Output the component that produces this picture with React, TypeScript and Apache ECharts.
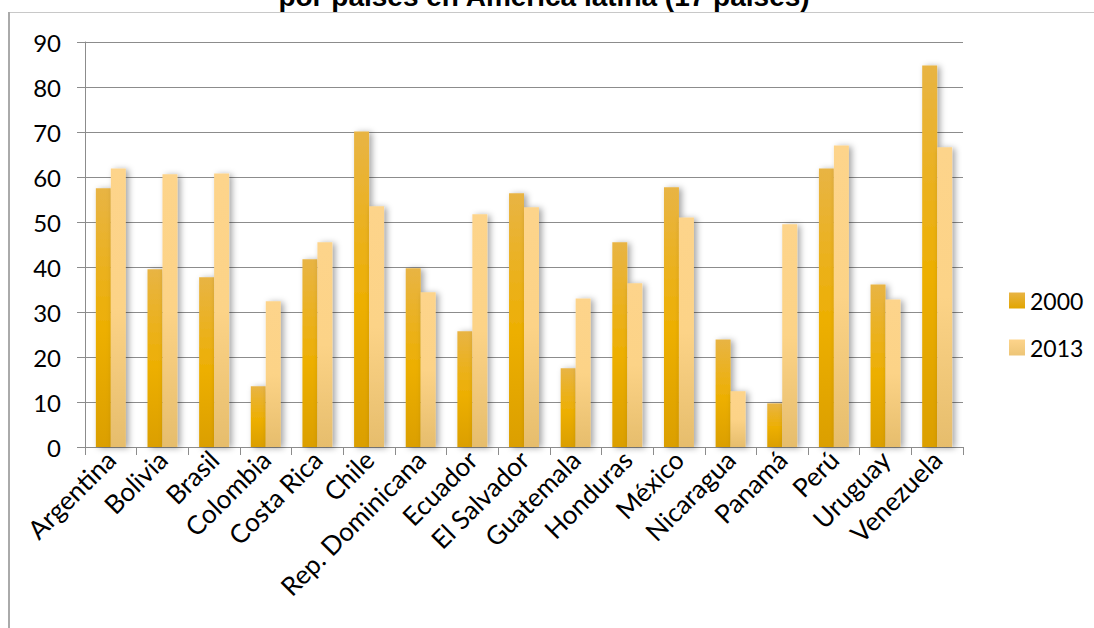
import React, { useEffect, useRef } from "react";
import * as echarts from "echarts";

const categories = [
  "Argentina", "Bolivia", "Brasil", "Colombia", "Costa Rica", "Chile",
  "Rep. Dominicana", "Ecuador", "El Salvador", "Guatemala", "Honduras",
  "México", "Nicaragua", "Panamá", "Perú", "Uruguay", "Venezuela",
];
const values2000 = [57.5, 39.5, 37.7, 13.5, 41.7, 70.1, 39.7, 25.7, 56.4, 17.5, 45.5, 57.7, 23.9, 9.7, 61.9, 36.1, 84.8];
const values2013 = [61.9, 60.6, 60.8, 32.4, 45.5, 53.5, 34.4, 51.7, 53.3, 33.0, 36.4, 51.0, 12.4, 49.5, 67.0, 32.8, 66.6];
const seriesNames = ["2000", "2013"];
const titleText = "por países en América latina (17 países)";

const FONT = "Lato, 'Open Sans', sans-serif";

export default function App() {
  const ref = useRef<HTMLDivElement>(null);
  useEffect(() => {
    if (!ref.current) return;
    const chart = echarts.init(ref.current, undefined, { renderer: "svg" });
    const grad2000 = new echarts.graphic.LinearGradient(0, 0, 0, 1, [
      { offset: 0, color: "#E8B444" },
      { offset: 0.55, color: "#EDAF02" },
      { offset: 1, color: "#DB9F00" },
    ]);
    const grad2013 = new echarts.graphic.LinearGradient(0, 0, 0, 1, [
      { offset: 0, color: "#FDD48B" },
      { offset: 0.5, color: "#FCD387" },
      { offset: 1, color: "#E6BD6C" },
    ]);
    const legendGrad2000 = new echarts.graphic.LinearGradient(0, 0, 0, 1, [
      { offset: 0, color: "#E8B444" },
      { offset: 1, color: "#E2A500" },
    ]);
    const legendGrad2013 = new echarts.graphic.LinearGradient(0, 0, 0, 1, [
      { offset: 0, color: "#FDD48B" },
      { offset: 1, color: "#EDC577" },
    ]);
    const shadow = {
      shadowColor: "rgba(0,0,0,0.35)",
      shadowBlur: 6,
      shadowOffsetX: 3,
      shadowOffsetY: 1,
    };
    chart.setOption({
      animation: false,
      backgroundColor: "#fff",
      textStyle: { fontFamily: FONT },
      grid: { left: 85, right: 131, top: 42, bottom: 181, containLabel: false },
      legend: {
        orient: "vertical",
        left: 1004,
        top: 284,
        itemWidth: 16,
        itemHeight: 16,
        itemGap: 24,
        icon: "rect",
        textStyle: { fontSize: 23, color: "#000", fontFamily: FONT },
        data: [
          { name: seriesNames[0], itemStyle: { color: legendGrad2000 } },
          { name: seriesNames[1], itemStyle: { color: legendGrad2013 } },
        ],
      },
      xAxis: {
        type: "category",
        data: categories,
        axisLine: { lineStyle: { color: "#8C8C8C", width: 1 } },
        axisTick: { show: true, length: 8, lineStyle: { color: "#8C8C8C" } },
        axisLabel: {
          rotate: 45,
          interval: 0,
          margin: 8,
          fontSize: 26,
          color: "#000",
          fontFamily: FONT,
        },
      },
      yAxis: {
        type: "value",
        min: 0,
        max: 90,
        interval: 10,
        axisLine: { show: true, lineStyle: { color: "#8C8C8C", width: 1 } },
        axisTick: { show: true, length: 8, lineStyle: { color: "#8C8C8C" } },
        axisLabel: { fontSize: 24, color: "#000", margin: 24, fontFamily: FONT },
        splitLine: { show: true, lineStyle: { color: "#8C8C8C", width: 1.2 } },
      },
      series: [
        {
          name: seriesNames[0],
          type: "bar",
          data: values2000,
          barGap: "0%",
          barCategoryGap: "42%",
          itemStyle: { color: grad2000, ...shadow },
        },
        {
          name: seriesNames[1],
          type: "bar",
          data: values2013,
          barGap: "0%",
          barCategoryGap: "42%",
          itemStyle: { color: grad2013, ...shadow },
        },
      ],
      graphic: [
        {
          type: "text",
          x: 544,
          y: 10.5,
          style: {
            text: titleText,
            font: "bold 28px 'Liberation Sans', Arial, sans-serif",
            fill: "#000",
            align: "center",
            verticalAlign: "bottom",
          },
        },
        {
          type: "line",
          shape: { x1: 9, y1: 12.5, x2: 1094, y2: 12.5 },
          style: { stroke: "#C8C8C8", lineWidth: 1 },
        },
        {
          type: "line",
          shape: { x1: 9, y1: 12, x2: 9, y2: 628 },
          style: { stroke: "#AAAAAA", lineWidth: 2 },
        },
      ],
    });
    return () => chart.dispose();
  }, []);
  return <div ref={ref} style={{ width: 1094, height: 628, position: "absolute", left: 0, top: 0 }} />;
}
